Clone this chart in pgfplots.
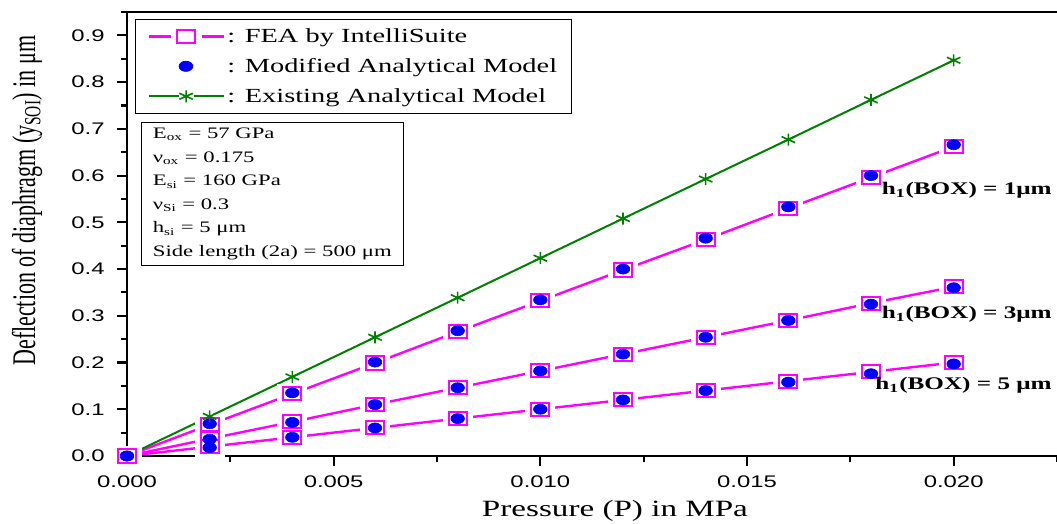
\documentclass[border=0pt]{standalone}
\usepackage{fontspec}
\setmainfont{Liberation Serif}
\setsansfont{Liberation Sans}
\usepackage{graphicx}
\usepackage{pgfplots}
\usepackage{pgfplotstable}
\pgfplotsset{compat=1.18}
\definecolor{mag}{RGB}{255,0,255}
\definecolor{dgreen}{RGB}{0,128,0}
\definecolor{bdot}{RGB}{0,0,255}
\pgfplotstableread{
x      g       f1     m1     f3     m3     f5     m5
0      0       0      0      0      0      0      0
0.002  0.0847  0.067  0.069  0.037  0.036  0.020  0.018
0.004  0.1693  0.133  0.135  0.073  0.072  0.040  0.040
0.006  0.2540  0.199  0.201  0.110  0.110  0.060  0.060
0.008  0.3386  0.266  0.268  0.146  0.146  0.080  0.080
0.010  0.4233  0.332  0.334  0.182  0.182  0.100  0.100
0.012  0.5080  0.398  0.400  0.218  0.218  0.120  0.120
0.014  0.5926  0.463  0.466  0.254  0.254  0.140  0.140
0.016  0.6770  0.530  0.533  0.290  0.290  0.160  0.158
0.018  0.7620  0.596  0.600  0.327  0.325  0.180  0.176
0.020  0.8466  0.662  0.666  0.362  0.360  0.200  0.197
}\datatable
\begin{document}
\begin{tikzpicture}
\begin{axis}[
  name=ax,
  set layers,
  scale only axis,
  width=697.5pt, height=333pt,
  xmin=0, xmax=0.0225, ymin=0, ymax=0.95,
  clip=false,
  axis x line*=bottom, axis y line*=left,
  axis line style={line width=2pt, -},
  tick align=outside,
  major tick length=7.5pt, minor tick length=4.5pt,
  tick style={line width=1.6pt, black},
  xtick={0,0.005,0.01,0.015,0.02},
  minor xtick={0.0025,0.0075,0.0125,0.0175,0.0225},
  ytick={0,0.1,...,0.9},
  minor ytick={0.05,0.15,...,0.95},
  scaled x ticks=false,
  /pgf/number format/assume math mode=true,
  ticklabel style={font=\sffamily\fontsize{12.6}{14}\selectfont, xscale=1.42},
  xticklabel style={yshift=-4pt, /pgf/number format/.cd, fixed, fixed zerofill, precision=3},
  yticklabel style={xshift=-3pt, /pgf/number format/.cd, fixed, fixed zerofill, precision=1},
  xlabel={Pressure (P) in MPa},
  xlabel style={font=\fontsize{17.5}{20}\selectfont, at={(rel axis cs:0.5247,-0.1239)}, anchor=center, xscale=1.42},
  ylabel={Deflection of diaphragm (y\textsubscript{SOI}) in μm},
  ylabel style={font=\fontsize{16.5}{20}\selectfont, at={(rel axis cs:-0.1075,0.575)}, anchor=center, yscale=1.5},
  legend style={at={(rel axis cs:0.0086,0.985)}, anchor=north west,
    draw=black, line width=0.6pt, font=\fontsize{15}{18}\selectfont,
    cells={anchor=west}, inner xsep=9pt, inner ysep=5pt,
    row sep=6.5pt},
]
% magenta lines
\addplot[forget plot, mag, line width=1.8pt] table[x=x, y=f1] {\datatable};
\addplot[forget plot, mag, line width=1.8pt] table[x=x, y=f3] {\datatable};
\addplot[forget plot, mag, line width=1.8pt] table[x=x, y=f5] {\datatable};
% white gaps round the squares
\addplot[forget plot, white, only marks, mark=square*, mark size=7.3pt, mark options={xscale=1.5, draw=white, fill=white, line width=0pt}] table[x=x, y=f1] {\datatable};
\addplot[forget plot, white, only marks, mark=square*, mark size=7.3pt, mark options={xscale=1.5, draw=white, fill=white, line width=0pt}] table[x=x, y=f3] {\datatable};
\addplot[forget plot, white, only marks, mark=square*, mark size=7.3pt, mark options={xscale=1.5, draw=white, fill=white, line width=0pt}] table[x=x, y=f5] {\datatable};
% squares
\addplot[mag, only marks, mark=square*, mark size=4.9pt, mark options={xscale=1.4, fill=white, line width=1.5pt},
  legend image code/.code={
    \draw[mag, line width=1.8pt] (0pt,0pt) -- (16.5pt,0pt) (39.75pt,0pt) -- (56.25pt,0pt);
    \draw plot coordinates {(28pt,0pt)};}]
  table[x=x, y=f1] {\datatable};
\addlegendentry{\scalebox{1.42}[1]{: FEA by IntelliSuite}}
\addplot[bdot, only marks, mark=*, mark size=3.8pt, mark options={xscale=1.35},
  legend image code/.code={\draw plot coordinates {(28pt,0pt)};}]
  table[x=x, y=m1] {\datatable};
\addlegendentry{\scalebox{1.42}[1]{: Modified Analytical Model}}
\addplot[dgreen, line width=1.5pt, mark=asterisk, mark size=4.5pt, mark options={xscale=1.3, line width=1.2pt},
  legend image code/.code={
    \draw[dgreen, line width=1.5pt] (0pt,0pt) -- (22.5pt,0pt) (33.75pt,0pt) -- (56.25pt,0pt);
    \draw[only marks] plot coordinates {(28.1pt,0pt)};}]
  table[x=x, y=g] {\datatable};
\addlegendentry{\scalebox{1.42}[1]{: Existing Analytical Model}}
\addplot[forget plot, mag, only marks, mark=square*, mark size=4.9pt, mark options={xscale=1.4, fill=white, line width=1.5pt}] table[x=x, y=f3] {\datatable};
\addplot[forget plot, mag, only marks, mark=square*, mark size=4.9pt, mark options={xscale=1.4, fill=white, line width=1.5pt}] table[x=x, y=f5] {\datatable};
\addplot[forget plot, bdot, only marks, mark=*, mark size=3.8pt, mark options={xscale=1.35}] table[x=x, y=m3] {\datatable};
\addplot[forget plot, bdot, only marks, mark=*, mark size=3.8pt, mark options={xscale=1.35}] table[x=x, y=m5] {\datatable};
% frame top and right
\draw[line width=1.4pt, black] (rel axis cs:0,1) -- (rel axis cs:1,1);
\draw[line width=0.5pt, black!25] (rel axis cs:1,0) -- (rel axis cs:1,1);
\begin{pgfonlayer}{axis foreground}
% parameter box
\node[draw=black, fill=white, line width=0.6pt, anchor=north west, align=left, inner xsep=6pt, inner ysep=4pt, xscale=1.42,
      font=\fontsize{12}{17.7}\selectfont] at (rel axis cs:0.015,0.752)
  {E\textsubscript{ox} = 57 GPa\\
   ν\textsubscript{ox} = 0.175\\
   E\textsubscript{si} = 160 GPa\\
   ν\textsubscript{Si} = 0.3\\
   h\textsubscript{si} = 5 μm\\
   Side length (2a) = 500 μm};
% annotations
\node[anchor=east, font=\bfseries\fontsize{13.3}{16}\selectfont, inner sep=0pt, xscale=1.42] at (axis cs:0.02238,0.568) {h\textsubscript{1}(BOX) = 1μm};
\node[anchor=east, font=\bfseries\fontsize{13.3}{16}\selectfont, inner sep=0pt, xscale=1.42] at (axis cs:0.02238,0.303) {h\textsubscript{1}(BOX) = 3μm};
\node[anchor=east, font=\bfseries\fontsize{13.3}{16}\selectfont, inner sep=0pt, xscale=1.42] at (axis cs:0.02238,0.152) {h\textsubscript{1}(BOX) = 5 μm};
\end{pgfonlayer}
\end{axis}
\pgfresetboundingbox
\path ([shift={(-95.25pt,-51pt)}]ax.south west) rectangle ([shift={(0pt,9pt)}]ax.north east);
\end{tikzpicture}
\end{document}
